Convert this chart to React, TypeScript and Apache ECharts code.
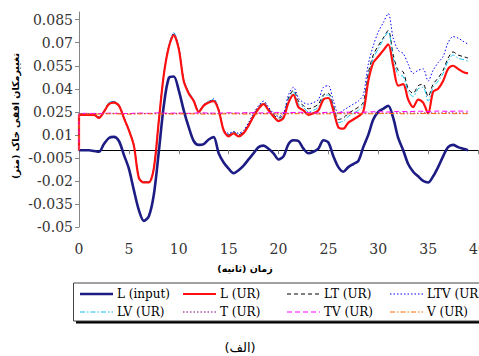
import React, { useEffect, useRef } from "react";
import * as echarts from "echarts";

// time grid (s)
const TIME = [
  0, 0.5, 1, 1.5, 2, 2.5, 3, 3.5, 4, 4.5,
  5, 5.5, 6, 6.5, 7, 7.5, 8, 8.5, 9, 9.5,
  10, 10.5, 11, 11.5, 12, 12.5, 13, 13.5, 14, 14.5,
  15, 15.5, 16, 16.5, 17, 17.5, 18, 18.5, 19, 19.5,
  20, 20.5, 21, 21.5, 22, 22.5, 23, 23.5, 24, 24.5,
  25, 25.5, 26, 26.5, 27, 27.5, 28, 28.5, 29, 29.5,
  30, 30.5, 31, 31.5, 32, 32.5, 33, 33.5, 34, 34.5,
  35, 35.5, 36, 36.5, 37, 37.5, 38, 38.5, 39,
];
const TIME_1S = [
  0, 1, 2, 3, 4, 5, 6, 7, 8, 9, 10, 11, 12, 13, 14, 15, 16, 17, 18, 19,
  20, 21, 22, 23, 24, 25, 26, 27, 28, 29, 30, 31, 32, 33, 34, 35, 36, 37, 38, 39,
];
const UR_START = [0, 0];

const L_INPUT = [
  0, 0, 0, -0.0005, -0.001, 0.004, 0.008, 0.0087, 0.006, -0.003,
  -0.012, -0.026, -0.039, -0.046, -0.043, -0.029, -0.001, 0.029, 0.047, 0.048,
  0.039, 0.026, 0.015, 0.006, 0.0035, 0.004, 0.007, 0.0085, -0.002, -0.008,
  -0.012, -0.015, -0.013, -0.01, -0.006, -0.002, 0.002, 0.003, 0.001, -0.002,
  -0.006, -0.004, 0.004, 0.0065, 0.006, 0.001, -0.002, -0.001, 0.001, 0.0065,
  0.005, -0.004, -0.011, -0.014, -0.011, -0.009, -0.007, 0.002, 0.01, 0.02,
  0.025, 0.027, 0.029, 0.021, 0.008, 0, -0.009, -0.014, -0.017, -0.02,
  -0.021, -0.017, -0.011, -0.004, 0.002, 0.0035, 0.002, 0.001, 0,
];
const L_UR = [
  0.023, 0.023, 0.023, 0.023, 0.021, 0.025, 0.03, 0.031, 0.029, 0.021,
  0.013, 0.003, -0.018, -0.021, -0.021, -0.012, 0.019, 0.049, 0.067, 0.075,
  0.066, 0.045, 0.037, 0.032, 0.025, 0.029, 0.031, 0.032, 0.026, 0.013,
  0.009, 0.011, 0.009, 0.011, 0.016, 0.022, 0.027, 0.03, 0.026, 0.022,
  0.019, 0.021, 0.031, 0.036, 0.028, 0.026, 0.023, 0.024, 0.026, 0.033,
  0.034, 0.026, 0.015, 0.014, 0.018, 0.02, 0.022, 0.025, 0.045, 0.057,
  0.061, 0.065, 0.069, 0.055, 0.042, 0.043, 0.033, 0.028, 0.033, 0.031,
  0.024, 0.038, 0.04, 0.045, 0.053, 0.055, 0.053, 0.051, 0.05,
];
const LT_UR = [
  0.0235, 0.0235, 0.0235, 0.0235, 0.0215, 0.0255, 0.0305, 0.0315, 0.0295, 0.0215,
  0.0135, 0.0035, -0.0175, -0.0205, -0.0205, -0.0115, 0.0195, 0.0495, 0.0675, 0.0755,
  0.0665, 0.0455, 0.0375, 0.0325, 0.0255, 0.0295, 0.0315, 0.0325, 0.0265, 0.0135,
  0.01, 0.012, 0.01, 0.012, 0.017, 0.023, 0.028, 0.031, 0.027, 0.023,
  0.021, 0.023, 0.034, 0.039, 0.032, 0.029, 0.027, 0.028, 0.03, 0.036,
  0.037, 0.029, 0.02, 0.021, 0.024, 0.026, 0.028, 0.031, 0.05, 0.062,
  0.068, 0.073, 0.078, 0.062, 0.052, 0.051, 0.04, 0.037, 0.042, 0.043,
  0.035, 0.043, 0.047, 0.052, 0.06, 0.064, 0.062, 0.061, 0.06,
];
const LTV_UR = [
  0.0235, 0.0235, 0.0235, 0.0235, 0.0215, 0.0255, 0.0305, 0.0315, 0.0295, 0.0215,
  0.0135, 0.0035, -0.0175, -0.0205, -0.0205, -0.0115, 0.0195, 0.0495, 0.0675, 0.0765,
  0.0665, 0.0455, 0.0375, 0.0325, 0.0255, 0.0295, 0.0315, 0.0335, 0.0265, 0.0135,
  0.011, 0.012, 0.011, 0.013, 0.018, 0.024, 0.029, 0.032, 0.028, 0.024,
  0.022, 0.024, 0.036, 0.041, 0.034, 0.031, 0.03, 0.031, 0.033, 0.041,
  0.042, 0.032, 0.024, 0.026, 0.028, 0.03, 0.032, 0.036, 0.056, 0.068,
  0.077, 0.083, 0.089, 0.073, 0.065, 0.063, 0.056, 0.05, 0.052, 0.053,
  0.045, 0.052, 0.057, 0.061, 0.07, 0.074, 0.073, 0.071, 0.069,
];
const LV_UR = [
  0.0235, 0.0235, 0.0235, 0.0235, 0.0215, 0.0255, 0.031, 0.032, 0.0295, 0.0215,
  0.0135, 0.0035, -0.0175, -0.0205, -0.0205, -0.0115, 0.0195, 0.05, 0.068, 0.0765,
  0.067, 0.046, 0.038, 0.033, 0.0255, 0.0295, 0.032, 0.033, 0.0265, 0.0135,
  0.0095, 0.0115, 0.0095, 0.0115, 0.0165, 0.0225, 0.0275, 0.0305, 0.0265, 0.0225,
  0.02, 0.022, 0.033, 0.038, 0.03, 0.028, 0.025, 0.026, 0.028, 0.035,
  0.036, 0.028, 0.018, 0.019, 0.022, 0.024, 0.026, 0.029, 0.048, 0.06,
  0.066, 0.072, 0.077, 0.06, 0.049, 0.048, 0.038, 0.035, 0.04, 0.041,
  0.032, 0.041, 0.045, 0.05, 0.058, 0.062, 0.06, 0.059, 0.058,
];
const T_UR = [
  0.0238, 0.0239, 0.0238, 0.024, 0.0239, 0.0238, 0.024, 0.0239, 0.0241, 0.0239,
  0.024, 0.0239, 0.0241, 0.024, 0.0239, 0.0241, 0.024, 0.0241, 0.0239, 0.024,
  0.0241, 0.024, 0.0242, 0.0241, 0.024, 0.0242, 0.0241, 0.0242, 0.024, 0.0241,
  0.0242, 0.0241, 0.0243, 0.0242, 0.0241, 0.0243, 0.0242, 0.0243, 0.0242, 0.0242,
];
const TV_UR = [
  0.0238, 0.024, 0.0239, 0.0241, 0.024, 0.0239, 0.0242, 0.024, 0.0243, 0.0241,
  0.0242, 0.024, 0.0243, 0.0242, 0.0241, 0.0244, 0.0242, 0.0245, 0.0243, 0.0244,
  0.0246, 0.0244, 0.0247, 0.0245, 0.0244, 0.0247, 0.0246, 0.0248, 0.0246, 0.0249,
  0.0251, 0.0249, 0.0253, 0.0251, 0.0254, 0.0252, 0.0255, 0.0253, 0.0255, 0.0254,
];
const V_UR = [
  0.0235, 0.0236, 0.0235, 0.0237, 0.0236, 0.0235, 0.0236, 0.0237, 0.0236, 0.0235,
  0.0236, 0.0237, 0.0236, 0.0235, 0.0236, 0.0237, 0.0236, 0.0235, 0.0236, 0.0237,
  0.0236, 0.0237, 0.0238, 0.0237, 0.0236, 0.0237, 0.0238, 0.0237, 0.0238, 0.0237,
  0.0238, 0.0239, 0.0238, 0.0237, 0.0238, 0.0239, 0.0238, 0.0239, 0.0238, 0.0238,
];

const Y_TICKS = [-0.05, -0.035, -0.02, -0.005, 0.01, 0.025, 0.04, 0.055, 0.07, 0.085];

const LEGEND_NAMES = [
  "L (input)", "L (UR)", "LT (UR)", "LTV (UR)",
  "LV (UR)", "T (UR)", "TV (UR)", "V (UR)",
];

const Y_NAME = "تغییرمکان افقی خاک (متر)";
const X_NAME = "زمان (ثانیه)";
const CAPTION = "(الف)";

const STYLES: Record<string, { color: string; width: number; dash: any }> = {
  "L (input)": { color: "#1c1c84", width: 2.6, dash: "solid" },
  "L (UR)": { color: "#ff1010", width: 2.2, dash: "solid" },
  "LT (UR)": { color: "#000000", width: 1, dash: [4, 3] },
  "LTV (UR)": { color: "#0000ff", width: 1, dash: [1.5, 2] },
  "LV (UR)": { color: "#10c0f0", width: 1, dash: [5, 2, 1.5, 2] },
  "T (UR)": { color: "#800080", width: 1, dash: [1.5, 2] },
  "TV (UR)": { color: "#ff00ff", width: 1, dash: [5, 3] },
  "V (UR)": { color: "#ff6a00", width: 1, dash: [5, 2, 1.5, 2] },
};

function pairs(times: number[], vals: number[], start?: number[]) {
  const out: number[][] = times.map((t, i) => [t, vals[i]]);
  return start ? [start, ...out] : out;
}

export default function App() {
  const ref = useRef<HTMLDivElement>(null);
  useEffect(() => {
    if (!ref.current) return;
    const chart = echarts.init(ref.current, null, { renderer: "svg" });
    const data: Record<string, number[][]> = {
      "L (input)": pairs(TIME, L_INPUT),
      "LT (UR)": pairs(TIME, LT_UR, UR_START),
      "LTV (UR)": pairs(TIME, LTV_UR, UR_START),
      "LV (UR)": pairs(TIME, LV_UR, UR_START),
      "T (UR)": pairs(TIME_1S, T_UR, UR_START),
      "TV (UR)": pairs(TIME_1S, TV_UR, UR_START),
      "V (UR)": pairs(TIME_1S, V_UR, UR_START),
      "L (UR)": pairs(TIME, L_UR, UR_START),
    };
    const order = ["L (input)", "LT (UR)", "LTV (UR)", "LV (UR)", "L (UR)", "T (UR)", "TV (UR)", "V (UR)"];
    const series = order.map((name) => ({
      name,
      type: "line",
      data: data[name],
      xAxisIndex: 0,
      yAxisIndex: 0,
      showSymbol: false,
      symbol: "none",
      smooth: 0.3,
      lineStyle: {
        color: STYLES[name].color,
        width: STYLES[name].width,
        type: STYLES[name].dash,
      },
    }));

    const colX = [80, 183, 287, 390];
    const rowY = [294, 312];
    const legendEls: any[] = [
      { type: "rect", shape: { x: 76, y: 285.5, width: 420, height: 38 }, style: { fill: "#000" } },
      { type: "rect", shape: { x: 73.5, y: 283, width: 420, height: 38 }, style: { fill: "#fff", stroke: "#444", lineWidth: 1 } },
    ];
    LEGEND_NAMES.forEach((name, i) => {
      const cx = colX[i % 4];
      const cy = rowY[Math.floor(i / 4)];
      const s = STYLES[name];
      legendEls.push({
        type: "line",
        shape: { x1: cx, y1: cy, x2: cx + 33, y2: cy },
        style: {
          stroke: s.color,
          lineWidth: s.width,
          lineDash: s.dash === "solid" ? null : s.dash,
        },
      });
      legendEls.push({
        type: "text",
        x: cx + 37,
        y: cy,
        style: {
          text: name,
          fill: "#000",
          font: '12px "DejaVu Serif"',
          verticalAlign: "middle",
          align: "left",
        },
      });
    });

    const option: any = {
      animation: false,
      backgroundColor: "#fff",
      grid: { left: 79, right: 1, top: 12, bottom: 129, containLabel: false, outerBoundsMode: "none" },
      xAxis: [
        {
          type: "value",
          min: 0,
          max: 40,
          interval: 5,
          axisLine: { show: true, onZero: true, lineStyle: { color: "#000", width: 1 } },
          axisTick: { show: true, length: 4, lineStyle: { color: "#808080" } },
          axisLabel: { show: false },
          splitLine: { show: false },
        },
        {
          type: "value",
          min: 0,
          max: 40,
          interval: 5,
          position: "bottom",
          axisLine: { show: false, onZero: false },
          axisTick: { show: false },
          axisLabel: {
            show: true,
            margin: 15,
            color: "#333",
            fontFamily: "DejaVu Serif",
            fontSize: 14,
          },
          splitLine: { show: false },
        },
      ],
      yAxis: {
        type: "value",
        min: -0.05,
        max: 0.09,
        axisLine: { show: true, onZero: false, lineStyle: { color: "#868686", width: 1 } },
        axisTick: { show: true, length: 4, customValues: Y_TICKS, lineStyle: { color: "#868686" } },
        axisLabel: {
          customValues: Y_TICKS,
          margin: 6,
          color: "#333",
          fontFamily: "DejaVu Serif",
          fontSize: 14,
          formatter: (v: number) => String(v),
        },
        splitLine: { show: false },
      },
      series,
      graphic: [
        ...legendEls,
        {
          type: "text",
          x: 15,
          y: 116,
          rotation: Math.PI / 2,
          style: {
            text: Y_NAME,
            fill: "#000",
            font: 'bold 9.5px "DejaVu Sans"',
            align: "center",
            verticalAlign: "middle",
          },
        },
        {
          type: "text",
          x: 245,
          y: 268,
          style: {
            text: X_NAME,
            fill: "#000",
            font: 'bold 9.5px "DejaVu Sans"',
            align: "center",
            verticalAlign: "middle",
          },
        },
        {
          type: "text",
          x: 240,
          y: 347,
          style: {
            text: CAPTION,
            fill: "#000",
            font: '13px "DejaVu Sans"',
            align: "center",
            verticalAlign: "middle",
          },
        },
      ],
    };
    chart.setOption(option);
    return () => chart.dispose();
  }, []);
  return (
    <div
      ref={ref}
      style={{ position: "absolute", left: 0, top: 0, width: 479, height: 356 }}
    />
  );
}
